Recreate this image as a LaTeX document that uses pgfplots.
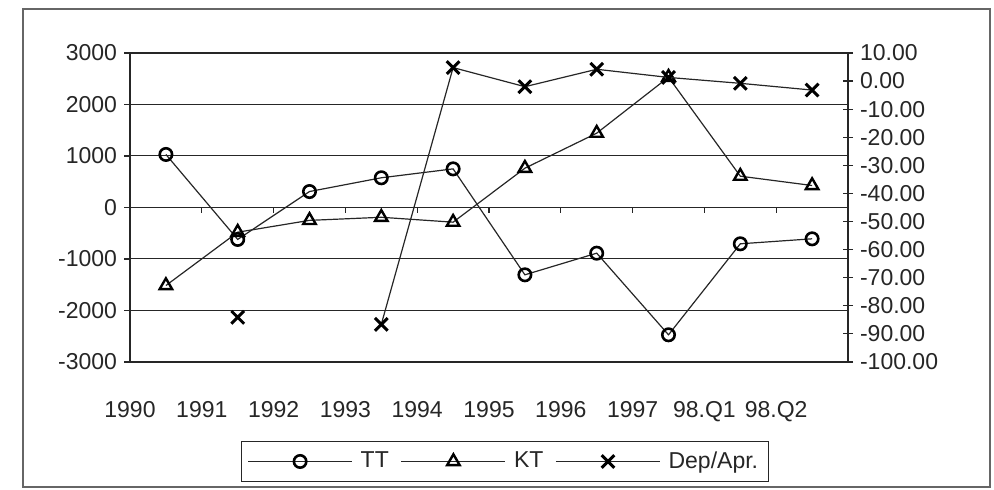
\documentclass[border=0pt]{standalone}
\usepackage{fontspec}
\setmainfont{Liberation Sans}
\usepackage{pgfplots}
\pgfplotsset{compat=1.18}
\usepackage{pgfplotstable}

\pgfplotstableread{
x TT KT Dep
0.5 1030 -1515 nan
1.5 -620 -480 -84.1
2.5 310 -250 nan
3.5 577 -190 -86.6
4.5 750 -285 4.8
5.5 -1307 763 -2.0
6.5 -887 1443 4.2
7.5 -2472 2530 1.3
8.5 -705 608 -0.8
9.5 -608 427 -3.2
}\data

\pgfplotsset{
  ttstyle/.style={black!85, line width=0.6pt, mark=o, mark size=3.1pt, mark options={solid, black, line width=1.3pt}},
  ktstyle/.style={black!85, line width=0.6pt, mark=triangle, mark size=3.6pt, mark options={solid, black, line width=1.2pt}},
  depstyle/.style={black!85, line width=0.6pt, mark=x, mark size=4.5pt, mark options={solid, black, line width=1.5pt}},
}

\begin{document}
\begin{tikzpicture}
\path[use as bounding box] (-65pt,-64pt) rectangle (432pt,181pt);
\draw[black!60, line width=0.8pt] (-53.5pt,-62.5pt) rectangle (430pt,176.5pt);
\begin{axis}[
  at={(0,0)}, anchor=south west, scale only axis,
  width=359pt, height=154.5pt,
  xmin=0, xmax=10, ymin=-3000, ymax=3000,
  ytick={-3000,-2000,...,3000},
  xtick={0,...,9},
  xticklabels={1990,1991,1992,1993,1994,1995,1996,1997,98.Q1,98.Q2},
  xtick style={draw=none},
  ytick pos=left,
  tick align=outside,
  major tick length=3pt,
  ymajorgrids,
  grid style={black!85, line width=0.5pt},
  axis line style={black!85, line width=0.6pt},
  tick style={black!85, line width=0.6pt},
  ticklabel style={font=\fontsize{11.5}{13}\selectfont, text=black!85},
  xticklabel style={yshift=-13pt},
  /pgf/number format/assume math mode=true,
  /pgf/number format/1000 sep={},
  legend columns=3,
  legend image code/.code={\draw[mark repeat=2,mark phase=2,#1] plot coordinates {(0pt,0pt) (26pt,0pt) (52pt,0pt)};},
  legend style={at={(0.522,-0.322)}, anchor=center, draw=black!85, line width=0.6pt,
    font=\fontsize{11.5}{13}\selectfont, text=black!85, inner sep=3pt,
    /tikz/every even column/.append style={column sep=4pt},
    /tikz/every odd column/.append style={column sep=2pt}},
]
\addplot[ttstyle] table[x=x,y=TT]{\data};
\addlegendentry{TT}
\addplot[ktstyle] table[x=x,y=KT]{\data};
\addlegendentry{KT}
\addlegendimage{depstyle}
\addlegendentry{Dep/Apr.}
\pgfplotsinvokeforeach{1,...,9}{\draw[black!85, line width=0.6pt] (axis cs:#1,0) -- ++(0pt,-3pt);}
\end{axis}
\begin{axis}[
  at={(0,0)}, anchor=south west, scale only axis,
  width=359pt, height=154.5pt,
  xmin=0, xmax=10, ymin=-100, ymax=10,
  ytick={-100,-90,...,10},
  axis x line=none, axis y line*=right,
  tick align=center, major tick length=5pt,
  axis line style={black!85, line width=0.6pt},
  tick style={black!85, line width=0.6pt},
  ticklabel style={font=\fontsize{11.5}{13}\selectfont, text=black!85},
  yticklabel style={/pgf/number format/.cd, fixed, fixed zerofill, precision=2, assume math mode=true},
  unbounded coords=jump,
]
\addplot[depstyle] table[x=x,y=Dep]{\data};
\end{axis}
\end{tikzpicture}
\end{document}
